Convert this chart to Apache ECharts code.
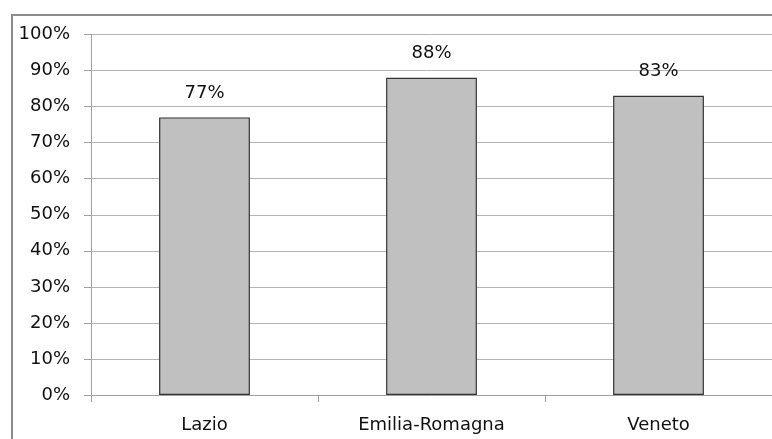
<!DOCTYPE html>
<html>
<head>
<meta charset="utf-8">
<script src="https://cdn.jsdelivr.net/npm/echarts@6/dist/echarts.min.js"></script>
<style>
html,body{margin:0;padding:0;background:#fff;}
#c{width:772px;height:439px;}
</style>
</head>
<body>
<div id="c"></div>
<script>
var categories = ["Lazio", "Emilia-Romagna", "Veneto"];
var values = [77, 88, 83];
var yTicks = [0, 10, 20, 30, 40, 50, 60, 70, 80, 90, 100];

var chart = echarts.init(document.getElementById('c'), null, {renderer: 'canvas'});
chart.setOption({
  animation: false,
  backgroundColor: '#fff',
  graphic: [{
    type: 'rect',
    shape: {x: 12, y: 15, width: 800, height: 500},
    style: {fill: 'none', stroke: '#8c8c8c', lineWidth: 2},
    silent: true
  }],
  grid: {left: 91, top: 34.5, right: 0, bottom: 44, containLabel: false},
  xAxis: {
    type: 'category',
    data: categories,
    boundaryGap: true,
    axisLine: {show: true, lineStyle: {color: '#a0a0a0', width: 1}},
    axisTick: {show: true, length: 7, alignWithLabel: false, lineStyle: {color: '#a0a0a0'}},
    axisLabel: {margin: 21, fontFamily: 'DejaVu Sans', fontSize: 18, color: '#111'},
    splitLine: {show: false}
  },
  yAxis: {
    type: 'value',
    min: yTicks[0],
    max: yTicks[yTicks.length - 1],
    interval: 10,
    axisLine: {show: true, lineStyle: {color: '#a0a0a0', width: 1}},
    axisTick: {show: true, length: 7, lineStyle: {color: '#a0a0a0'}},
    axisLabel: {margin: 21, fontFamily: 'DejaVu Sans', fontSize: 18, color: '#111', formatter: '{value}%'},
    splitLine: {show: true, lineStyle: {color: '#b4b4b4', width: 1}}
  },
  series: [{
    type: 'bar',
    data: values,
    barWidth: '40%',
    itemStyle: {color: '#c0c0c0', borderColor: '#333', borderWidth: 1.2},
    label: {
      show: true, position: 'top', distance: 15,
      fontFamily: 'DejaVu Sans', fontSize: 18, color: '#111',
      formatter: '{c}%'
    }
  }]
});
</script>
</body>
</html>
